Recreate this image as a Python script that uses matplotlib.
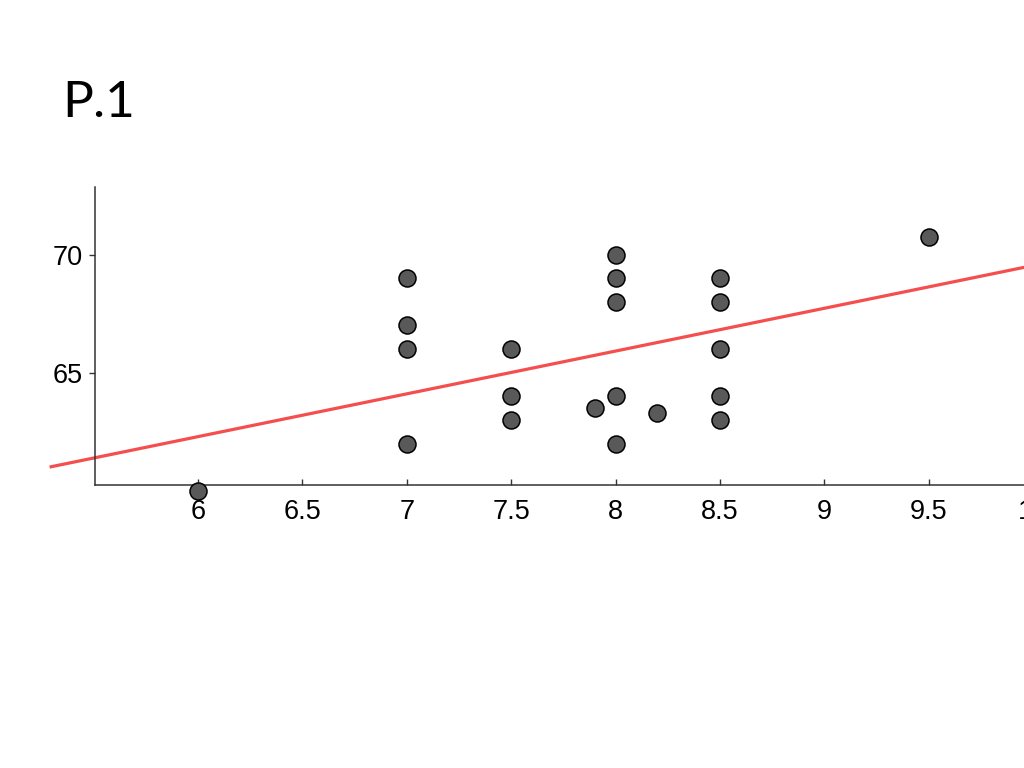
from matplotlib import pyplot as plt
import numpy as np

# scatter values
xs = [6, 7, 7, 7, 7, 7.5, 7.5, 7.5, 7.9, 8, 8, 8, 8, 8, 8.2, 8.5, 8.5, 8.5, 8.5, 8.5, 9.5]
ys = [60, 69, 67, 66, 62, 66, 64, 63, 63.5, 70, 69, 68, 64, 62, 63.3, 69, 68, 66, 64, 63, 70.75]

# fitted line as drawn
slope = 1.811
intercept = 51.43
line_x = [5.297, 10.6]

xticks = [6, 6.5, 7, 7.5, 8, 8.5, 9, 9.5, 10]
xticklabels = ['6', '6.5', '7', '7.5', '8', '8.5', '9', '9.5', '10']
yticks = [65, 70]


def visualize():
    fig = plt.figure(figsize=(10.24, 7.68), dpi=100)

    fig.text(62/1024, 1-117/768, 'P.1', fontsize=37, family='Lato',
             va='baseline', ha='left', color='black')

    # axes run past the right edge of the picture, like the original
    ax = fig.add_axes([95/1024, 1-485/768, 1002/1024, 298/768])

    ax.set_xlim(5.507, 10.305)
    ax.set_ylim(60.25, 72.86)

    ly = [slope*x + intercept for x in line_x]
    ax.plot(line_x, ly, color='#f44e4e', lw=2.3, clip_on=False, zorder=2)

    ax.scatter(xs, ys, s=150, c='#595959', edgecolors='black', linewidths=1.1,
               clip_on=False, zorder=3)

    for s in ['top', 'right']:
        ax.spines[s].set_visible(False)
    for s in ['left', 'bottom']:
        ax.spines[s].set_color('#333333')
        ax.spines[s].set_linewidth(1.1)

    ax.set_xticks(xticks)
    ax.set_xticklabels(xticklabels, family='Liberation Sans', fontsize=19.5)
    ax.set_yticks(yticks)
    ax.set_yticklabels([str(t) for t in yticks], family='Liberation Sans', fontsize=19.5)
    ax.tick_params(axis='x', direction='in', length=4, width=1, color='#333333', pad=10)
    ax.tick_params(axis='y', direction='out', length=4, width=1, color='#333333', pad=5)

    plt.savefig('out.png', dpi=100)


if __name__ == '__main__':
    visualize()
